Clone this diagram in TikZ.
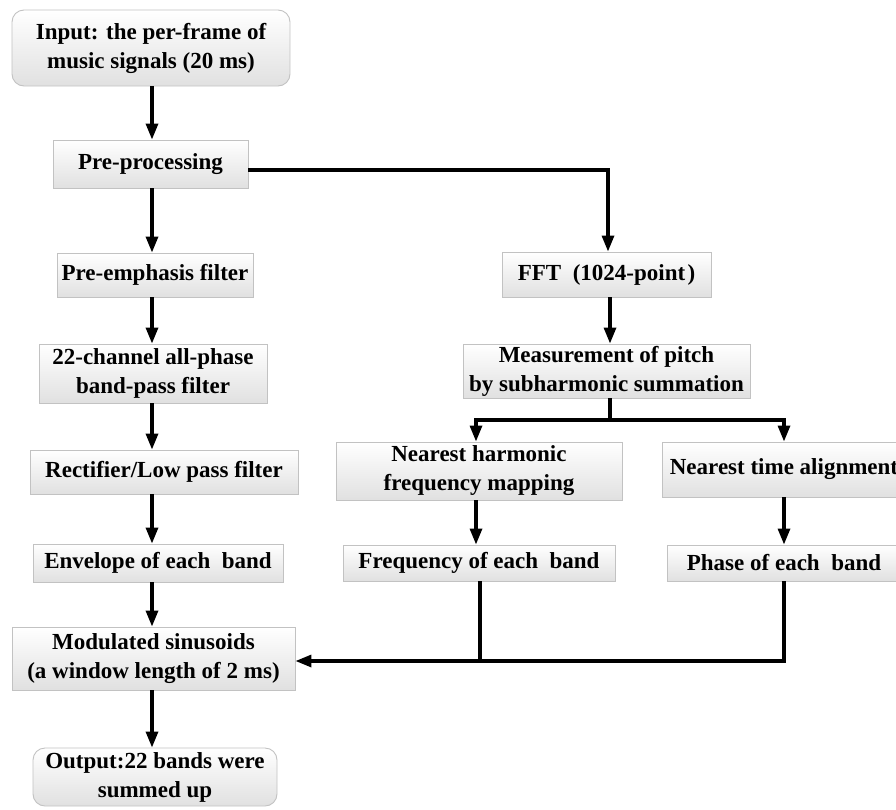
\documentclass[tikz,border=0pt]{standalone}
\usepackage{fontspec}
\setmainfont{Liberation Serif}
\usetikzlibrary{arrows.meta,shadings}
\begin{document}
\begin{tikzpicture}[x=1pt,y=-1pt,
  box/.style={draw=black!24, line width=0.9pt, top color=white, bottom color=black!12,
    inner sep=0pt, align=center, font=\fontsize{23}{29}\selectfont\bfseries},
  rbox/.style={box, rounded corners=12pt},
  arr/.style={line width=3.2pt, -{Triangle[length=16pt,width=12pt]}},
  ln/.style={line width=3.2pt}]
\useasboundingbox (0,0) rectangle (896,809);
% left column
\node[rbox, minimum width=278pt, minimum height=76pt] (input) at (151,48) {Input: the per-frame of\\music signals (20 ms)};
\node[box, minimum width=195pt, minimum height=48pt] (pre) at (150.5,164) {Pre-processing};
\node[box, minimum width=196pt, minimum height=44pt] (pe) at (155,275) {Pre-emphasis filter};
\node[box, minimum width=228pt, minimum height=59pt] (ch) at (153,373.5) {22-channel all-phase\\band-pass filter};
\node[box, minimum width=268pt, minimum height=44pt] (rect) at (164,472) {Rectifier/Low pass filter};
\node[box, minimum width=250pt, minimum height=38pt] (env) at (158,563) {Envelope of each~ band};
\node[box, minimum width=283pt, minimum height=63pt] (mod) at (153.5,658.5) {Modulated sinusoids\\(a window length of 2 ms)};
\node[rbox, minimum width=244pt, minimum height=58pt] (out) at (155,777) {Output:22 bands were\\summed up};
% right part
\node[box, minimum width=209pt, minimum height=45pt] (fft) at (606.5,274.5) {FFT\hspace{0.5em}(1024-point\hspace{0.1em})};
\node[box, minimum width=287pt, minimum height=54pt] (meas) at (606.5,371) {Measurement of pitch\\by subharmonic summation};
\node[box, minimum width=286pt, minimum height=58pt] (nh) at (479,471) {Nearest harmonic\\frequency mapping};
\node[box, minimum width=244pt, minimum height=55pt] (nt) at (784,469.5) {Nearest time alignment};
\node[box, minimum width=272pt, minimum height=36pt] (freq) at (479,563) {Frequency of each~ band};
\node[box, minimum width=234pt, minimum height=36pt] (phase) at (784,563) {Phase of each~ band};
% helper coordinates
\coordinate (lc) at (152,0);
\coordinate (fx) at (608,0);
\coordinate (sp) at (610,420);
\coordinate (nhx) at (476,420);
\coordinate (ntx) at (784,420);
\coordinate (jn) at (480,661);
% left connectors
\draw[arr] (input.south -| lc) -- (pre.north -| lc);
\draw[arr] (pre.south -| lc) -- (pe.north -| lc);
\draw[arr] (pe.south -| lc) -- (ch.north -| lc);
\draw[arr] (ch.south -| lc) -- (rect.north -| lc);
\draw[arr] (rect.south -| lc) -- (env.north -| lc);
\draw[arr] (env.south -| lc) -- (mod.north -| lc);
\draw[arr] (mod.south -| lc) -- (out.north -| lc);
% right connectors
\draw[arr] ([yshift=-6pt]pre.east) -| (fft.north -| fx);
\draw[arr] (fft.south -| sp) -- (meas.north -| sp);
\draw[ln] (meas.south -| sp) -- (sp);
\draw[arr] (sp) -- (nhx) -- (nh.north -| nhx);
\draw[arr] (sp) -- (ntx) -- (nt.north -| ntx);
\draw[arr] (nh.south -| nhx) -- (freq.north -| nhx);
\draw[arr] (nt.south -| ntx) -- (phase.north -| ntx);
\draw[ln] (freq.south -| jn) -- (jn);
\draw[arr] (phase.south -| ntx) |- (mod.east |- jn);
\end{tikzpicture}
\end{document}
